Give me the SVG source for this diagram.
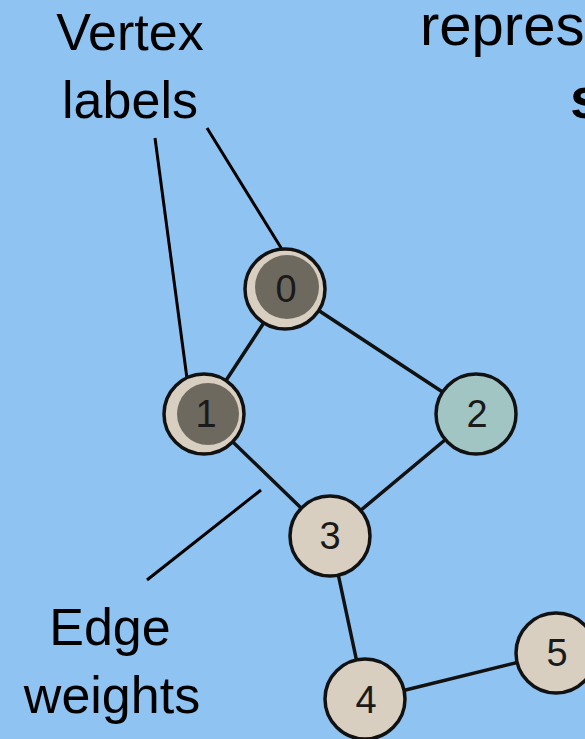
<svg xmlns="http://www.w3.org/2000/svg" width="585" height="739" viewBox="0 0 585 739">
  <style>
    .edge { stroke: #111; stroke-width: 3.5; fill: none; stroke-linecap: round; }
    .note { stroke: #000; stroke-width: 3; fill: none; }
    .node { fill: #d8cfc0; stroke: #111; stroke-width: 3.5; }
    .inner { fill: #6e695f; }
    .cur { fill: #a1c5c3; }
    .num { font-family: "Liberation Sans", Arial, sans-serif; font-size: 38px; fill: #1a1a1a; text-anchor: middle; }
    .cap { font-family: "Liberation Sans", Arial, sans-serif; font-size: 52px; fill: #000; text-anchor: middle; }
    .body { font-family: "Liberation Sans", Arial, sans-serif; font-size: 58px; fill: #000; }
  </style>
  <rect width="585" height="739" fill="#8ec3f2"/>

  <!-- graph edges -->
  <g id="edges">
    <line class="edge" x1="286" y1="289" x2="204" y2="414"/>
    <line class="edge" x1="286" y1="289" x2="476" y2="414"/>
    <line class="edge" x1="204" y1="414" x2="330" y2="536"/>
    <line class="edge" x1="476" y1="414" x2="330" y2="536"/>
    <line class="edge" x1="330" y1="536" x2="365" y2="700"/>
    <line class="edge" x1="365" y1="700" x2="556" y2="653"/>
  </g>

  <!-- callout lines -->
  <g id="callouts">
    <line class="note" x1="207" y1="128" x2="283" y2="251"/>
    <line class="note" x1="155" y1="138" x2="188" y2="386"/>
    <line class="note" x1="147" y1="580" x2="261" y2="490"/>
  </g>

  <g id="node0">
    <circle class="node" cx="285" cy="289" r="40"/>
    <circle class="inner" cx="287" cy="287" r="32"/>
    <text class="num" x="286" y="302">0</text>
  </g>
  <g id="node1">
    <circle class="node" cx="204" cy="414" r="40"/>
    <circle class="inner" cx="208" cy="414" r="31"/>
    <text class="num" x="206" y="427">1</text>
  </g>
  <g id="node2">
    <circle class="node cur" cx="476" cy="414" r="40"/>
    <text class="num" x="477" y="427">2</text>
  </g>
  <g id="node3">
    <circle class="node" cx="330" cy="536" r="40"/>
    <text class="num" x="330" y="549">3</text>
  </g>
  <g id="node4">
    <circle class="node" cx="365" cy="699" r="40"/>
    <text class="num" x="366" y="713">4</text>
  </g>
  <g id="node5">
    <circle class="node" cx="556" cy="653" r="40"/>
    <text class="num" x="557" y="666">5</text>
  </g>

  <!-- captions -->
  <g id="captions">
    <text class="cap" x="130" y="50">Vertex</text>
    <text class="cap" x="130" y="118">labels</text>
    <text class="cap" x="110" y="645">Edge</text>
    <text class="cap" x="112" y="713">weights</text>
    <text class="body" x="420" y="45">repres</text>
    <text class="body" x="570" y="118" font-weight="bold">s</text>
  </g>
</svg>
